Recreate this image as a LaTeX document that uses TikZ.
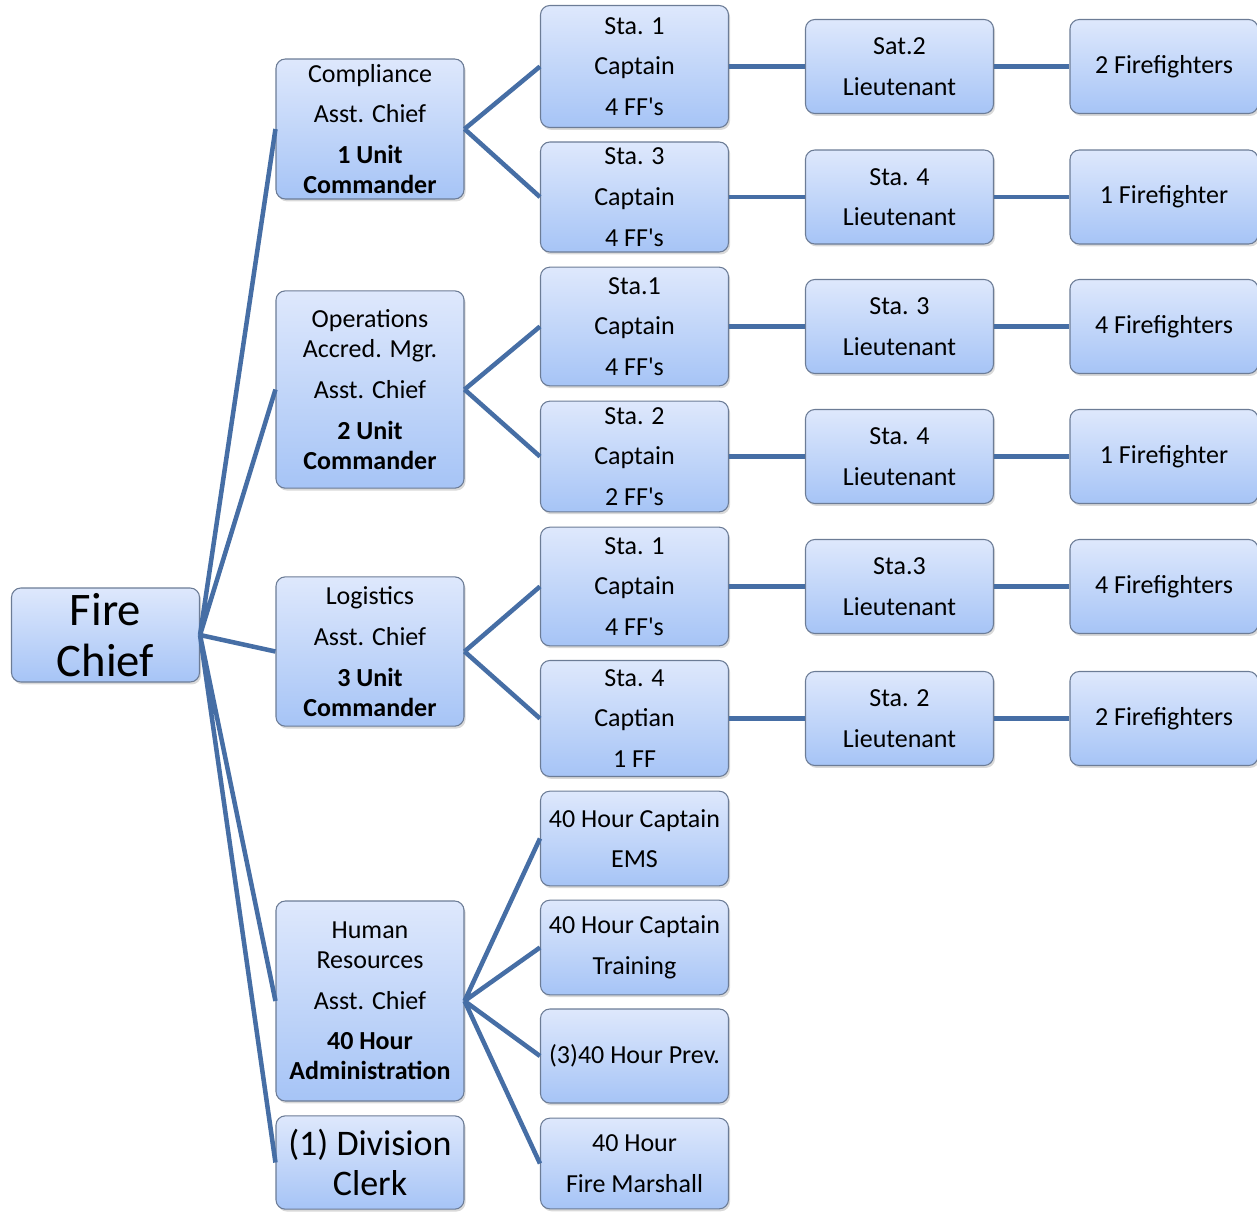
\documentclass[tikz,border=0pt]{standalone}
\usepackage{fontspec}
\setmainfont{Carlito}
\usetikzlibrary{shadows}

\definecolor{boxtop}{RGB}{222,232,252}
\definecolor{boxbottom}{RGB}{166,196,246}
\definecolor{boxline}{RGB}{108,124,150}
\definecolor{linkblue}{RGB}{70,110,165}

\newcommand{\ffs}[1]{#1 FF\textquotesingle s}

\tikzset{
	box/.style={draw=boxline, line width=0.8pt, rounded corners=7pt,
		top color=boxtop, bottom color=boxbottom,
		drop shadow={shadow xshift=1.2pt, shadow yshift=-1.8pt, opacity=0.3},
		minimum width=141pt, inner sep=0pt, align=center,
		font=\fontsize{19.5}{22.5}\selectfont},
	link/.style={linkblue, line width=3.4pt}
}

\begin{document}
\begin{tikzpicture}[x=0.75pt, y=-0.75pt]
			\useasboundingbox (0, 0) rectangle (1257, 1211);

			\node[box, minimum height=70.5pt, font=\fontsize{35}{38}\selectfont]	(chief) at (105.5, 635) {Fire\\Chief};

			\node[box, minimum height=105pt]	(comp) at (370, 129) {Compliance\\[8pt]Asst. Chief\\[8pt]\textbf{1 Unit}\\\textbf{Commander}};
			\node[box, minimum height=148pt]	(ops) at (370, 389.5) {Operations\\Accred. Mgr.\\[8pt]Asst. Chief\\[8pt]\textbf{2 Unit}\\\textbf{Commander}};
			\node[box, minimum height=112pt]	(log) at (370, 651.5) {Logistics\\[8pt]Asst. Chief\\[8pt]\textbf{3 Unit}\\\textbf{Commander}};
			\node[box, minimum height=150pt]	(hr) at (370, 1001) {Human\\Resources\\[8pt]Asst. Chief\\[8pt]\textbf{40 Hour}\\\textbf{Administration}};
			\node[box, minimum height=70pt, font=\fontsize{27}{30}\selectfont]	(clerk) at (370, 1162.5) {(1) Division\\Clerk};

			\node[box, minimum height=91.5pt]	(capA) at (634.5, 66.5) {Sta. 1\\[8pt]Captain\\[8pt]\ffs{4}};
			\node[box, minimum height=82.5pt]	(capB) at (634.5, 197) {Sta. 3\\[8pt]Captain\\[8pt]\ffs{4}};
			\node[box, minimum height=89pt]	(capC) at (634.5, 326.5) {Sta.1\\[8pt]Captain\\[8pt]\ffs{4}};
			\node[box, minimum height=83pt]	(capD) at (634.5, 456.5) {Sta. 2\\[8pt]Captain\\[8pt]\ffs{2}};
			\node[box, minimum height=89pt]	(capE) at (634.5, 586.5) {Sta. 1\\[8pt]Captain\\[8pt]\ffs{4}};
			\node[box, minimum height=87pt]	(capF) at (634.5, 718.5) {Sta. 4\\[8pt]Captian\\[8pt]1 FF};
			\node[box, minimum height=71pt]	(ems) at (634.5, 838.5) {40 Hour Captain\\[8pt]EMS};
			\node[box, minimum height=71pt]	(train) at (634.5, 947.5) {40 Hour Captain\\[8pt]Training};
			\node[box, minimum height=70.5pt]	(prev) at (634.5, 1056) {(3)40 Hour Prev.};
			\node[box, minimum height=68pt]	(marsh) at (634.5, 1163.5) {40 Hour\\[8pt]Fire Marshall};

			\node[box, minimum height=70.5pt]	(ltA) at (899.5, 66.5) {Sat.2\\[8pt]Lieutenant};
			\node[box, minimum height=70.5pt]	(ltB) at (899.5, 197) {Sta. 4\\[8pt]Lieutenant};
			\node[box, minimum height=70.5pt]	(ltC) at (899.5, 326.5) {Sta. 3\\[8pt]Lieutenant};
			\node[box, minimum height=70.5pt]	(ltD) at (899.5, 456.5) {Sta. 4\\[8pt]Lieutenant};
			\node[box, minimum height=70.5pt]	(ltE) at (899.5, 586.5) {Sta.3\\[8pt]Lieutenant};
			\node[box, minimum height=70.5pt]	(ltF) at (899.5, 718.5) {Sta. 2\\[8pt]Lieutenant};

			\node[box, minimum height=70.5pt]	(ffA) at (1164, 66.5) {2 Firefighters};
			\node[box, minimum height=70.5pt]	(ffB) at (1164, 197) {1 Firefighter};
			\node[box, minimum height=70.5pt]	(ffC) at (1164, 326.5) {4 Firefighters};
			\node[box, minimum height=70.5pt]	(ffD) at (1164, 456.5) {1 Firefighter};
			\node[box, minimum height=70.5pt]	(ffE) at (1164, 586.5) {4 Firefighters};
			\node[box, minimum height=70.5pt]	(ffF) at (1164, 718.5) {2 Firefighters};

			\draw[link]	(chief.east) to (comp.west)
						(chief.east) to (ops.west)
						(chief.east) to (log.west)
						(chief.east) to (hr.west)
						(chief.east) to (clerk.west);

			\draw[link]	(comp.east) to (capA.west)
						(comp.east) to (capB.west)
						(ops.east) to (capC.west)
						(ops.east) to (capD.west)
						(log.east) to (capE.west)
						(log.east) to (capF.west)
						(hr.east) to (ems.west)
						(hr.east) to (train.west)
						(hr.east) to (prev.west)
						(hr.east) to (marsh.west);

			\draw[link]	(capA.east) to (ltA.west)
						(capB.east) to (ltB.west)
						(capC.east) to (ltC.west)
						(capD.east) to (ltD.west)
						(capE.east) to (ltE.west)
						(capF.east) to (ltF.west);

			\draw[link]	(ltA.east) to (ffA.west)
						(ltB.east) to (ffB.west)
						(ltC.east) to (ffC.west)
						(ltD.east) to (ffD.west)
						(ltE.east) to (ffE.west)
						(ltF.east) to (ffF.west);
		\end{tikzpicture}
\end{document}
